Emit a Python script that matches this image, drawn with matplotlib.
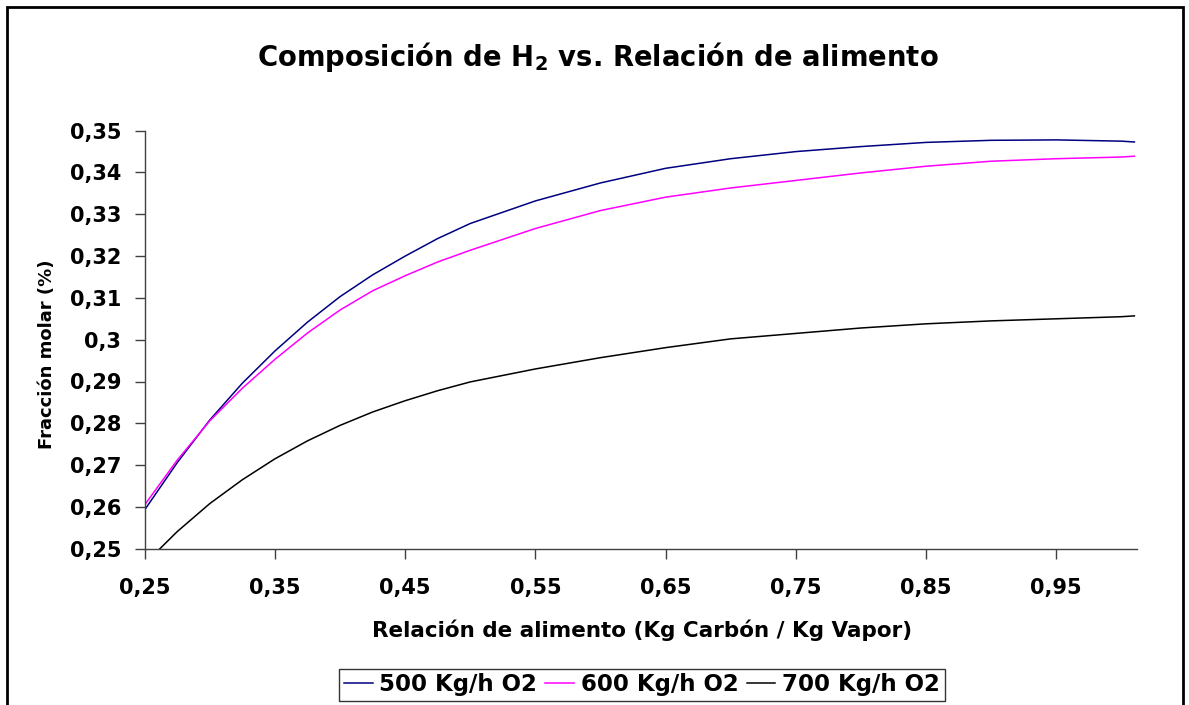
import matplotlib
matplotlib.use("Agg")
import matplotlib.pyplot as plt
from matplotlib.patches import Rectangle
from matplotlib.ticker import FuncFormatter

# Relacion de alimento (Kg Carbon / Kg Vapor)
relacion = [0.25, 0.275, 0.30, 0.325, 0.35, 0.375, 0.40, 0.425, 0.45, 0.475, 0.50,
            0.55, 0.60, 0.65, 0.70, 0.75, 0.80, 0.85, 0.90, 0.95, 1.00, 1.01]

# Fraccion molar de H2 para cada flujo de O2
h2_500 = [0.2593, 0.2706, 0.2808, 0.2896, 0.2973, 0.3042, 0.3103, 0.3155, 0.3200, 0.3242, 0.3278,
          0.3332, 0.3375, 0.3410, 0.3433, 0.3450, 0.3462, 0.3472, 0.3477, 0.3478, 0.3475, 0.3473]
h2_600 = [0.2605, 0.2712, 0.2806, 0.2884, 0.2953, 0.3016, 0.3071, 0.3117, 0.3153, 0.3186, 0.3214,
          0.3266, 0.3309, 0.3341, 0.3363, 0.3381, 0.3399, 0.3415, 0.3427, 0.3433, 0.3437, 0.3439]
h2_700 = [0.2464, 0.2541, 0.2608, 0.2665, 0.2715, 0.2758, 0.2795, 0.2827, 0.2854, 0.2878, 0.2899,
          0.2930, 0.2957, 0.2981, 0.3002, 0.3015, 0.3028, 0.3038, 0.3045, 0.3050, 0.3055, 0.3057]

series_labels = ["500 Kg/h O2", "600 Kg/h O2", "700 Kg/h O2"]
series_colors = ["#000080", "#FF00FF", "#000000"]

x_ticks = [0.25, 0.35, 0.45, 0.55, 0.65, 0.75, 0.85, 0.95]
y_ticks = [0.25, 0.26, 0.27, 0.28, 0.29, 0.30, 0.31, 0.32, 0.33, 0.34, 0.35]

plt.rcParams["font.family"] = ["DejaVu Sans"]
plt.rcParams["font.weight"] = "bold"

W, H = 1189, 705
fig = plt.figure(figsize=(W / 100, H / 100), dpi=100)
ax = fig.add_axes([144.7 / W, 1 - 548.7 / H, (1137 - 144.7) / W, (548.7 - 130.7) / H])

for ys, lab, col in zip([h2_500, h2_600, h2_700], series_labels, series_colors):
    ax.plot(relacion, ys, color=col, linewidth=1.1, label=lab, solid_joinstyle="round")

ax.set_xlim(0.25, 1.012)
ax.set_ylim(0.25, 0.35)
ax.set_xticks(x_ticks)
ax.set_yticks(y_ticks)


def coma(v, pos):
    s = ("%.2f" % v).rstrip("0")
    return s.replace(".", ",")


ax.xaxis.set_major_formatter(FuncFormatter(coma))
ax.yaxis.set_major_formatter(FuncFormatter(coma))

for side in ["top", "right"]:
    ax.spines[side].set_visible(False)
for side in ["left", "bottom"]:
    ax.spines[side].set_color("#404040")
    ax.spines[side].set_linewidth(1.0)

ax.tick_params(axis="both", direction="out", length=7, width=1, color="#404040",
               labelsize=15)
ax.tick_params(axis="x", pad=14)
ax.tick_params(axis="y", pad=10)
for t in ax.get_xticklabels() + ax.get_yticklabels():
    t.set_fontweight("bold")

ax.set_xlabel("Relación de alimento (Kg Carbón / Kg Vapor)", fontsize=15.5,
              fontweight="bold", va="center")
ax.xaxis.set_label_coords((642 - 144.7) / (1137 - 144.7), (548.7 - 630) / 418)
ax.set_ylabel("Fracción molar (%)", fontsize=13, fontweight="bold", va="center")
ax.yaxis.set_label_coords((47 - 144.7) / (1137 - 144.7), (548.7 - 354) / 418)

fig.text(598 / W, 1 - 57 / H, "Composición de H$_\\mathbf{2}$ vs. Relación de alimento",
         ha="center", va="center", fontsize=19.8, fontweight="bold")

leg = ax.legend(loc="center", bbox_to_anchor=(642 / W, 1 - 685 / H),
                bbox_transform=fig.transFigure, ncol=3, fontsize=16.5,
                frameon=True, fancybox=False, edgecolor="black",
                handlelength=1.25, handletextpad=0.3, columnspacing=0.35,
                borderpad=0.2, borderaxespad=0)
leg.get_frame().set_linewidth(1.0)
for t in leg.get_texts():
    t.set_fontweight("bold")

# borde del area del grafico
fig.patches.append(Rectangle((7 / W, -0.05), (1183 - 7) / W, 1 - 7 / H + 0.05,
                             transform=fig.transFigure, fill=False,
                             edgecolor="black", linewidth=2))

fig.savefig("out.png", dpi=100)
